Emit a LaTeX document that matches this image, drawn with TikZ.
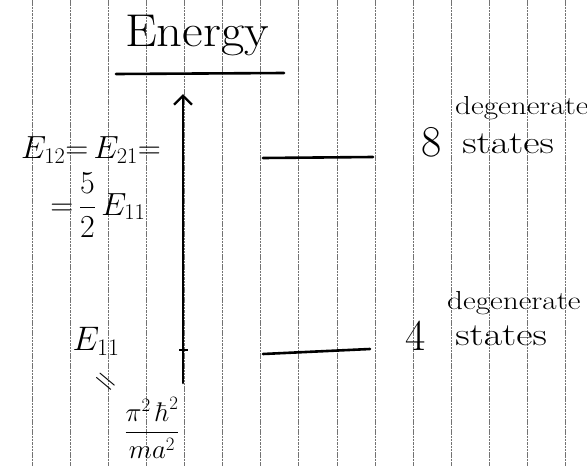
\RequirePackage{fix-cm}
\documentclass[tikz,border=0pt]{standalone}
\usepackage{amsmath}
\usetikzlibrary{arrows.meta}
\begin{document}
\begin{tikzpicture}[x=1pt,y=-1pt,
    gridline/.style={draw=black!55,line width=0.6pt,dash pattern=on 2.5pt off 0.8pt},
    ink/.style={line width=2.6pt,line cap=round},
    lbl/.style={inner sep=0pt,anchor=center},
  ]
  \useasboundingbox[fill=white] (0,0) rectangle (587,466);
  % ruled paper: vertical guide lines
  \foreach \k in {0,...,14}
    \draw[gridline] ({32+38.1*\k},0) -- ({32+38.1*\k},466);

  % title and its underline
  \node[lbl,xscale=1.1] (title) at (197,36) {\fontsize{46}{46}\selectfont Energy};
  \coordinate (ulL) at (116,74);
  \coordinate (ulR) at (284,73);
  \draw[ink] (ulL) -- (ulR);

  % energy axis
  \coordinate (axbot) at (183,383);
  \coordinate (axtop) at (183,94);
  \draw[ink,-{Straight Barb[length=9pt,width=18pt,line width=2.4pt]}] (axbot) -- (axtop);
  \coordinate (tickL) at (179,350);
  \coordinate (tickR) at (188,350);
  \draw[line width=2pt] (tickL) -- (tickR);

  % energy levels
  \coordinate (upL) at (263,158);
  \coordinate (upR) at (373,157);
  \draw[ink] (upL) -- (upR);
  \coordinate (loL) at (263,354);
  \coordinate (loR) at (370,349);
  \draw[ink] (loL) -- (loR);

  % labels on the left of the axis
  \node[lbl] (e12) at (91,150) {\fontsize{32}{32}\selectfont $E_{12}{=}\,E_{21}{=}$};
  \node[lbl] (e52) at (98,205) {\fontsize{32}{32}\selectfont ${=}\,\dfrac{5}{2}\,E_{11}$};
  \node[lbl] (e11) at (96,341) {\fontsize{34}{34}\selectfont $E_{11}$};
  \node[lbl,rotate=-40,scale=1.2] (eq) at (104,383) {\fontsize{26}{26}\selectfont $=$};
  \node[lbl] (frac) at (152,428) {\fontsize{27}{27}\selectfont $\dfrac{\pi^2\,\hbar^2}{ma^2}$};

  % degeneracies on the right
  \node[lbl] (n8) at (432,142) {\fontsize{44}{44}\selectfont 8};
  \node[lbl,anchor=west,xscale=1.2] (deg8) at (455,108) {\fontsize{26}{26}\selectfont degenerate};
  \node[lbl,anchor=west,xscale=1.25] (st8) at (462,144) {\fontsize{32}{32}\selectfont states};
  \node[lbl] (n4) at (416,336) {\fontsize{44}{44}\selectfont 4};
  \node[lbl,anchor=west,xscale=1.2] (deg4) at (447,303) {\fontsize{26}{26}\selectfont degenerate};
  \node[lbl,anchor=west,xscale=1.25] (st4) at (455,336) {\fontsize{32}{32}\selectfont states};
\end{tikzpicture}
\end{document}
